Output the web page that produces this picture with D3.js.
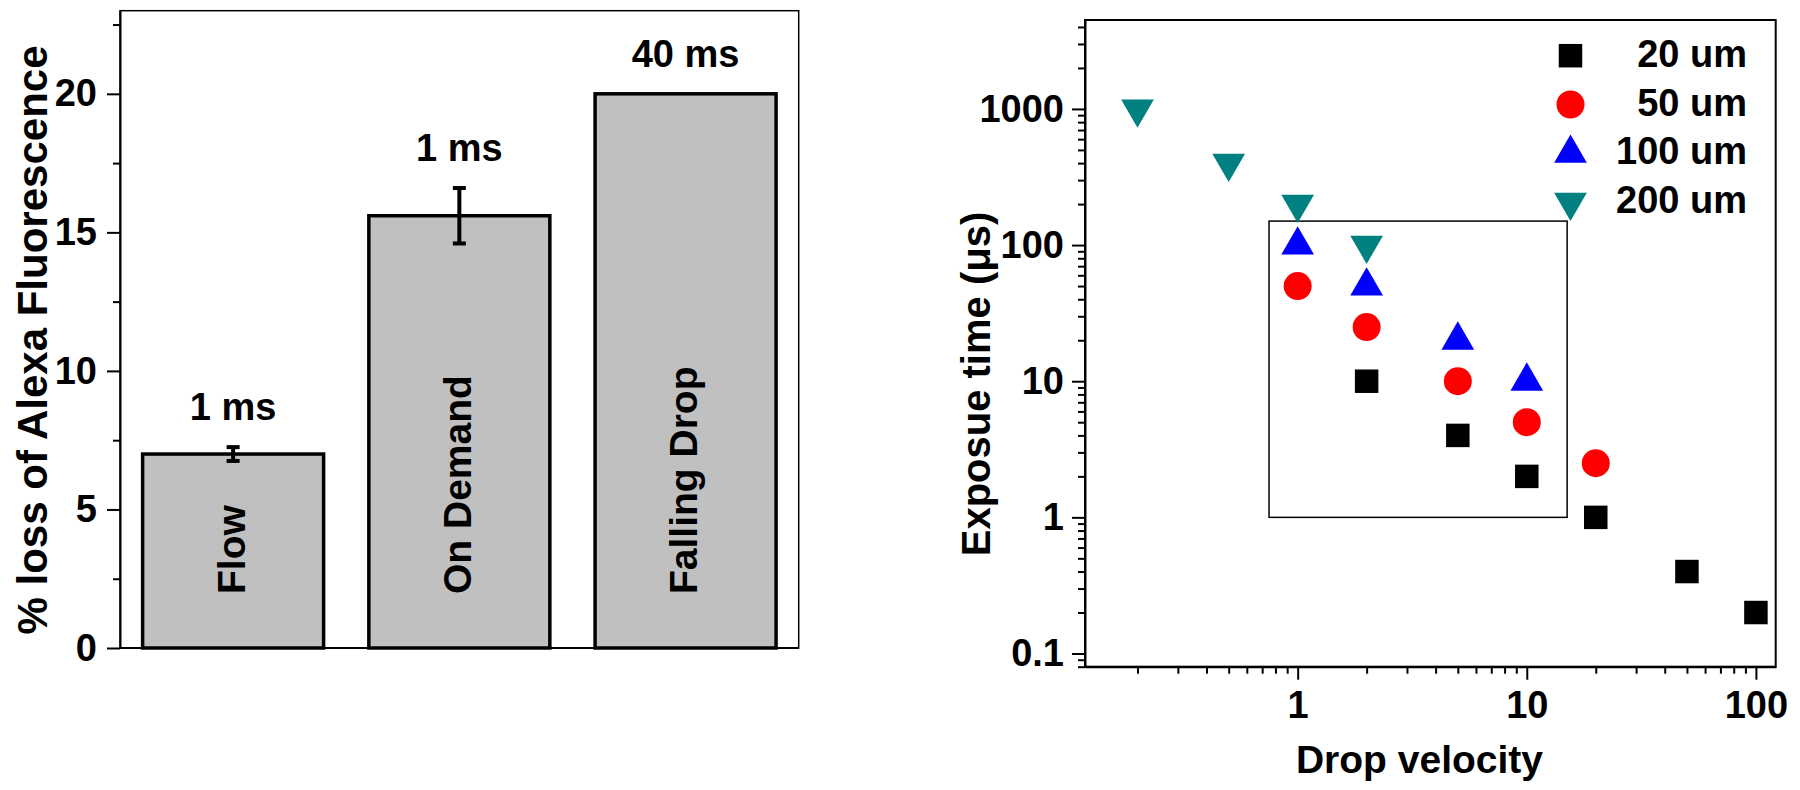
<!DOCTYPE html>
<html>
<head>
<meta charset="utf-8">
<script src="https://cdn.jsdelivr.net/npm/d3@7"></script>
<style>
body{margin:0;background:#fff;}
svg text{font-family:"Liberation Sans",Arial,sans-serif;font-weight:bold;fill:#000;}
</style>
</head>
<body>
<svg id="fig" width="1800" height="790"></svg>
<script>
// left panel: loss of fluorescence per method
const methods = ['Flow', 'On Demand', 'Falling Drop'];
const lossPct = [7, 15.6, 20];
const lossErr = [0.25, 1.0, 0];
const timeLabels = ['1 ms', '1 ms', '40 ms'];
const lossTicks = [0, 5, 10, 15, 20];
const lossMinor = [2.5, 7.5, 12.5, 17.5, 22.5];

// right panel: exposure time vs drop velocity
const sizes = ['20 um', '50 um', '100 um', '200 um'];
const vel20 = [2, 5, 10, 20, 50, 100];
const exp20 = [10, 4, 2, 1, 0.4, 0.2];
const vel50 = [1, 2, 5, 10, 20];
const exp50 = [50, 25, 10, 5, 2.5];
const vel100 = [1, 2, 5, 10];
const exp100 = [100, 50, 20, 10];
const vel200 = [0.2, 0.5, 1, 2];
const exp200 = [1000, 400, 200, 100];
const velTicks = [1, 10, 100];
const expTicks = [0.1, 1, 10, 100, 1000];
const boxVel = [0.75, 15];
const boxExp = [1, 150];

const svg = d3.select('#fig');

function styleAxis(g, fs){
    g.attr('font-family', null).attr('font-size', fs);
    g.select('.domain').attr('stroke-width', 2);
    g.selectAll('.tick line').attr('stroke-width', 2);
}

// ---------- left panel ----------
const L = {l: 120, r: 798.7, t: 10.7, b: 648};
const xL = d3.scaleBand().domain(methods).range([L.l, L.r]).paddingInner(0.2).paddingOuter(0.1);
const yL = d3.scaleLinear().domain([0, 23]).range([L.b, L.t]);
const gl = svg.append('g');

gl.append('rect').attr('x', L.l).attr('y', L.t).attr('width', L.r - L.l).attr('height', L.b - L.t)
  .attr('fill', 'none').attr('stroke', '#000').attr('stroke-width', 1.5);

gl.selectAll('rect.bar').data(methods).join('rect').attr('class', 'bar')
  .attr('x', d => xL(d)).attr('y', (d, i) => yL(lossPct[i]))
  .attr('width', xL.bandwidth()).attr('height', (d, i) => yL(0) - yL(lossPct[i]))
  .attr('fill', '#c0c0c0').attr('stroke', '#000').attr('stroke-width', 3.5);

methods.forEach((m, i) => {
    let cx = xL(m) + xL.bandwidth() / 2;
    let v = lossPct[i], e = lossErr[i];
    if(e > 0){
        gl.append('line').attr('x1', cx).attr('x2', cx).attr('y1', yL(v - e)).attr('y2', yL(v + e))
          .attr('stroke', '#000').attr('stroke-width', 4);
        [v - e, v + e].forEach(t => {
            gl.append('line').attr('x1', cx - 6.5).attr('x2', cx + 6.5).attr('y1', yL(t)).attr('y2', yL(t))
              .attr('stroke', '#000').attr('stroke-width', 4);
        });
    }
    gl.append('text').attr('x', cx).attr('y', yL(v + e) - 27).attr('text-anchor', 'middle')
      .attr('font-size', 38).text(timeLabels[i]);
    gl.append('text').attr('transform', `translate(${cx},594) rotate(-90)`).attr('dy', '0.3em')
      .attr('font-size', 39).text(m);
});

gl.append('line').attr('x1', L.l).attr('x2', L.r).attr('y1', L.b).attr('y2', L.b)
  .attr('stroke', '#000').attr('stroke-width', 2);

gl.append('g').attr('transform', `translate(${L.l},0)`)
  .call(d3.axisLeft(yL).tickValues(lossTicks).tickSize(13).tickPadding(10).tickSizeOuter(0))
  .call(g => styleAxis(g, 38));
gl.append('g').attr('transform', `translate(${L.l},0)`)
  .call(d3.axisLeft(yL).tickValues(lossMinor).tickSize(7).tickFormat('').tickSizeOuter(0))
  .call(g => { styleAxis(g, 38); g.select('.domain').remove(); });

gl.append('text').attr('transform', 'translate(47,340) rotate(-90)').attr('text-anchor', 'middle')
  .attr('font-size', 42).text('% loss of Alexa Fluorescence');

// ---------- right panel ----------
const R = {l: 1085, r: 1775.7, t: 20, b: 666.7};
const xR = d3.scaleLog().domain([0.118, 122]).range([R.l, R.r]);
const yR = d3.scaleLog().domain([0.08, 4500]).range([R.b, R.t]);
const gr = svg.append('g');

gr.append('rect').attr('x', R.l).attr('y', R.t).attr('width', R.r - R.l).attr('height', R.b - R.t)
  .attr('fill', 'none').attr('stroke', '#000').attr('stroke-width', 2);

gr.append('rect').attr('x', xR(boxVel[0])).attr('y', yR(boxExp[1]))
  .attr('width', xR(boxVel[1]) - xR(boxVel[0])).attr('height', yR(boxExp[0]) - yR(boxExp[1]))
  .attr('fill', 'none').attr('stroke', '#000').attr('stroke-width', 1.5);

const series = [
    {x: vel20, y: exp20, sym: d3.symbolSquare, size: 552, rot: 0, color: '#000000'},
    {x: vel50, y: exp50, sym: d3.symbolCircle, size: 616, rot: 0, color: '#ff0000'},
    {x: vel100, y: exp100, sym: d3.symbolTriangle, size: 463, rot: 0, color: '#0000ff'},
    {x: vel200, y: exp200, sym: d3.symbolTriangle, size: 463, rot: 180, color: '#008080'}
];

series.forEach((s, k) => {
    let path = d3.symbol().type(s.sym).size(s.size)();
    gr.append('g').selectAll('path').data(s.x).join('path')
      .attr('d', path)
      .attr('transform', (d, i) => `translate(${xR(d)},${yR(s.y[i])}) rotate(${s.rot})`)
      .attr('fill', s.color);
    let ly = 55.7 + k * 48.8;
    gr.append('path').attr('d', path).attr('transform', `translate(1570.5,${ly}) rotate(${s.rot})`)
      .attr('fill', s.color);
    gr.append('text').attr('x', 1747).attr('y', ly + 11).attr('text-anchor', 'end')
      .attr('font-size', 38).text(sizes[k]);
});

const fmt = d => String(d);
gr.append('g').attr('transform', `translate(${R.l},0)`)
  .call(d3.axisLeft(yR).tickValues(expTicks).tickFormat(fmt).tickSize(13).tickPadding(8).tickSizeOuter(0))
  .call(g => styleAxis(g, 38));
gr.append('g').attr('transform', `translate(${R.l},0)`)
  .call(d3.axisLeft(yR).tickValues(yR.ticks().filter(t => !expTicks.some(m => Math.abs(m - t) < 1e-9))).tickFormat('').tickSize(7).tickSizeOuter(0))
  .call(g => { styleAxis(g, 38); g.select('.domain').remove(); });

gr.append('g').attr('transform', `translate(0,${R.b})`)
  .call(d3.axisBottom(xR).tickValues(velTicks).tickFormat(fmt).tickSize(13).tickPadding(11).tickSizeOuter(0))
  .call(g => styleAxis(g, 38));
gr.append('g').attr('transform', `translate(0,${R.b})`)
  .call(d3.axisBottom(xR).tickValues(xR.ticks().filter(t => !velTicks.some(m => Math.abs(m - t) < 1e-9))).tickFormat('').tickSize(7).tickSizeOuter(0))
  .call(g => { styleAxis(g, 38); g.select('.domain').remove(); });

gr.append('text').attr('x', 1419.5).attr('y', 772.7).attr('text-anchor', 'middle')
  .attr('font-size', 39).text('Drop velocity');
gr.append('text').attr('transform', 'translate(990,384) rotate(-90)').attr('text-anchor', 'middle')
  .attr('font-size', 40).text('Exposue time (\u03bcs)');
</script>
</body>
</html>
